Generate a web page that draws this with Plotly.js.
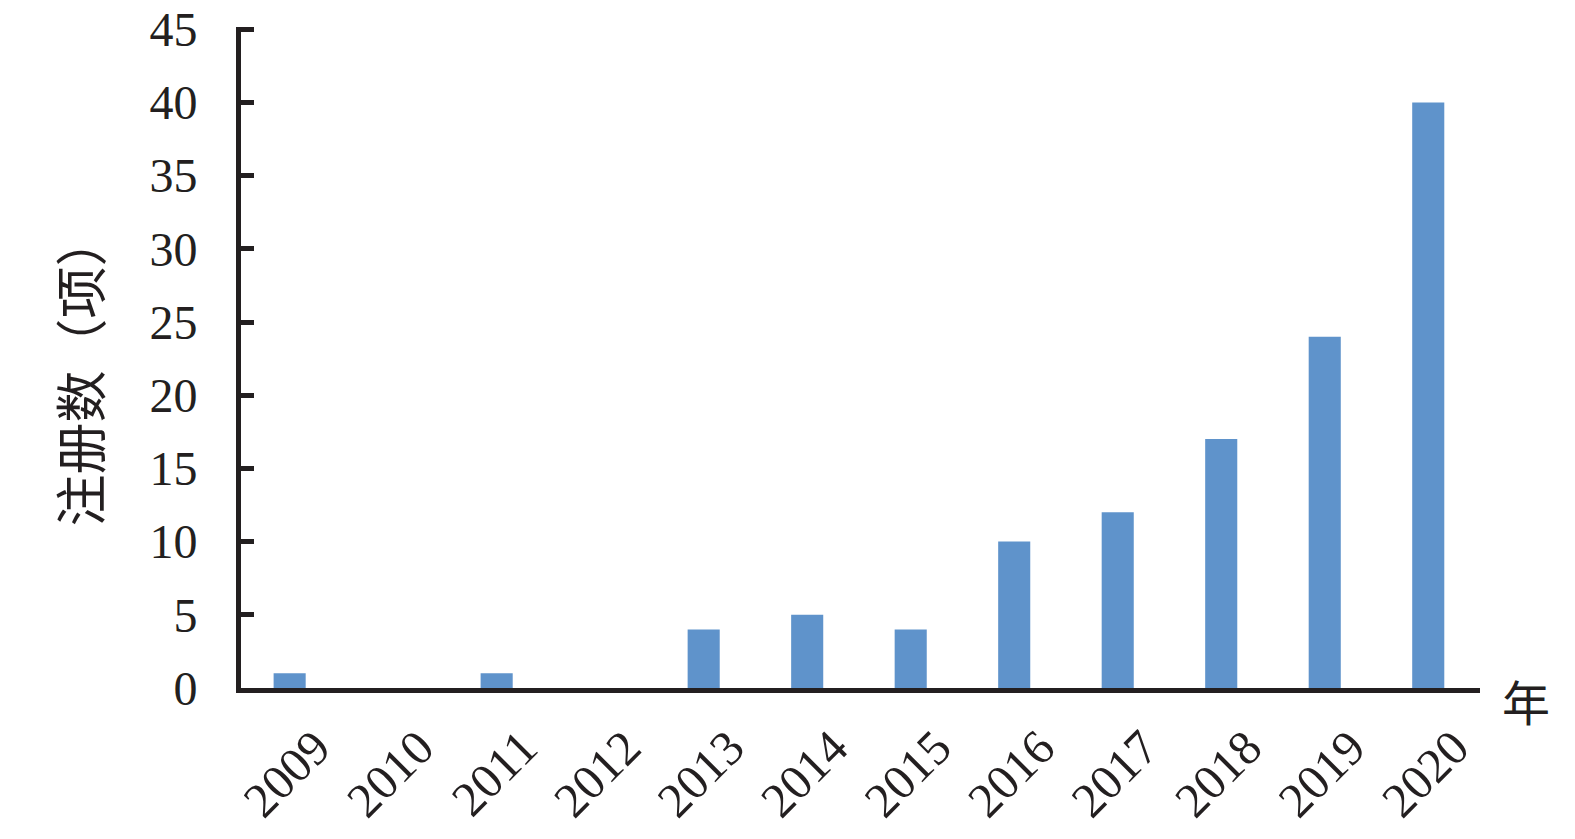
<!DOCTYPE html>
<html>
<head>
<meta charset="utf-8">
<script src="https://cdn.plot.ly/plotly-3.0.1.min.js"></script>
<style>html,body{margin:0;padding:0;background:#fff;}#chart{width:1575px;height:839px;}</style>
</head>
<body>
<div id="chart"></div>
<script>
const years = ['2009','2010','2011','2012','2013','2014','2015','2016','2017','2018','2019','2020'];
const counts = [1, 0, 1, 0, 4, 5, 4, 10, 12, 17, 24, 40];
const yTickStep = 5;
const yRange = [0, 45.15];
const yTitle = '注册数（项）';
const xUnit = '年';

const ink = '#231f20';
const serif = '"Liberation Serif", "Times New Roman", serif';
const cjk = '"Noto Sans CJK SC", sans-serif';

const trace = {
  type: 'bar',
  x: years,
  y: counts,
  marker: {color: '#5f93cb'},
  hoverinfo: 'x+y'
};

const layout = {
  width: 1575,
  height: 839,
  margin: {l: 241, r: 95, t: 27, b: 151},
  paper_bgcolor: '#ffffff',
  plot_bgcolor: '#ffffff',
  bargap: 0.69,
  showlegend: false,
  xaxis: {
    type: 'category',
    range: [-0.47, 11.5],
    showline: true,
    linecolor: ink,
    linewidth: 5,
    showgrid: false,
    zeroline: false,
    ticks: '',
    tickangle: -45,
    ticklabelshift: 26,
    ticklabelstandoff: 6,
    tickfont: {family: serif, size: 49, color: ink}
  },
  yaxis: {
    range: yRange,
    dtick: yTickStep,
    tick0: 0,
    showline: true,
    linecolor: ink,
    linewidth: 5,
    showgrid: false,
    zeroline: false,
    ticks: 'inside',
    ticklen: 13,
    tickwidth: 5,
    tickcolor: ink,
    ticklabelstandoff: 29,
    tickfont: {family: serif, size: 48, color: ink}
  },
  annotations: [{
    text: yTitle,
    textangle: -90,
    xref: 'paper', yref: 'paper',
    x: -0.131, y: 0.48,
    xanchor: 'center', yanchor: 'middle',
    showarrow: false,
    font: {family: cjk, size: 52, color: ink}
  }, {
    text: xUnit,
    xref: 'paper', yref: 'paper',
    x: 1.037, y: -0.018,
    xanchor: 'center', yanchor: 'middle',
    showarrow: false,
    font: {family: cjk, size: 48, color: ink}
  }]
};

Plotly.newPlot('chart', [trace], layout, {displayModeBar: false});
</script>
</body>
</html>
